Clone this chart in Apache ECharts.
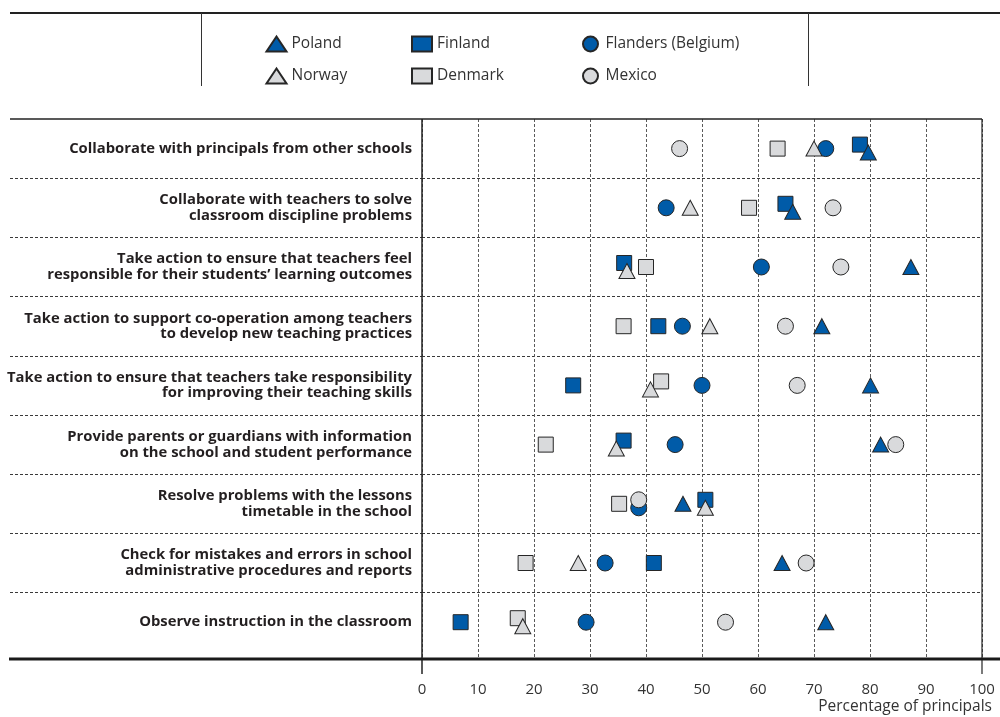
<!DOCTYPE html>
<html>
<head>
<meta charset="utf-8">
<script src="https://cdn.jsdelivr.net/npm/echarts@6/dist/echarts.min.js"></script>
<style>
html, body { margin: 0; padding: 0; background: #fff; }
#chart { width: 1000px; height: 717px; }
</style>
</head>
<body>
<div id="chart"></div>
<script>
// activities, top to bottom
var activities = [
	'Collaborate with principals from other schools',
	'Collaborate with teachers to solve\nclassroom discipline problems',
	'Take action to ensure that teachers feel\nresponsible for their students\u2019 learning outcomes',
	'Take action to support co-operation among teachers\nto develop new teaching practices',
	'Take action to ensure that teachers take responsibility\nfor improving their teaching skills',
	'Provide parents or guardians with information\non the school and student performance',
	'Resolve problems with the lessons\ntimetable in the school',
	'Check for mistakes and errors in school\nadministrative procedures and reports',
	'Observe instruction in the classroom'
];

// percentage of principals, same order as activities
var poland   = [79.7, 66.2, 87.3, 71.4, 80.1, 81.9, 46.6, 64.3, 72.1];
var finland  = [78.2, 64.9, 36.1, 42.2, 27.0, 36.0, 50.6, 41.4, 6.9];
var flanders = [72.1, 43.6, 60.6, 46.5, 50.0, 45.2, 38.7, 32.7, 29.3];
var norway   = [70.0, 47.9, 36.6, 51.4, 40.8, 34.7, 50.6, 27.9, 18.0];
var denmark  = [63.5, 58.4, 40.0, 36.0, 42.7, 22.1, 35.2, 18.5, 17.1];
var mexico   = [46.0, 73.4, 74.8, 64.9, 67.0, 84.6, 38.7, 68.6, 54.2];

var blue = '#005ba8';
var grey = '#d9dadc';
var edge = '#262626';
var font = 'Open Sans';

// drawing order: later ones on top; rank decides who moves up when two marks overlap
var countries = [
	{ name: 'Finland', data: finland, symbol: 'rect', size: 15, color: blue, rank: 0 },
	{ name: 'Denmark', data: denmark, symbol: 'rect', size: 15, color: grey, rank: 0 },
	{ name: 'Flanders (Belgium)', data: flanders, symbol: 'circle', size: 16, color: blue, rank: 2 },
	{ name: 'Mexico', data: mexico, symbol: 'circle', size: 16, color: grey, rank: 1 },
	{ name: 'Norway', data: norway, symbol: 'triangle', size: [16, 15], color: grey, rank: 3 },
	{ name: 'Poland', data: poland, symbol: 'triangle', size: [16, 15], color: blue, rank: 3 }
];

// nudge marks that sit on top of each other
var shift = countries.map(function() { return activities.map(function() { return 0; }); });
for (var r = 0; r < activities.length; r++) {
	for (var i = 0; i < countries.length; i++) {
		for (var j = i + 1; j < countries.length; j++) {
			if (Math.abs(countries[i].data[r] - countries[j].data[r]) < 2) {
				var up = countries[i].rank <= countries[j].rank ? i : j;
				var down = up == i ? j : i;
				shift[up][r] = -4;
				shift[down][r] = 4;
			}
		}
	}
}

var rowPx = 59.2;
var gridTop = 119, gridBottom = 58;
var yMax = (717 - gridTop - gridBottom) / rowPx;

// dashed separators only between rows
var sepColors = [];
for (var k = 0; k <= 2 * activities.length + 1; k++) {
	sepColors.push(k % 2 == 0 && k > 0 && k < 2 * activities.length ? '#3a3a3a' : 'rgba(0,0,0,0)');
}

var series = countries.map(function(c, ci) {
	return {
		name: c.name,
		type: 'scatter',
		xAxisIndex: 0,
		yAxisIndex: 0,
		symbol: c.symbol,
		symbolSize: c.size,
		itemStyle: { color: c.color, borderColor: edge, borderWidth: 1, opacity: 1 },
		emphasis: { disabled: true },
		data: c.data.map(function(v, r) {
			return { value: [v, r + 0.5], symbolOffset: [0, shift[ci][r]] };
		})
	};
});

var legendText = { fontFamily: font, fontSize: 15.5, color: '#333' };
function legendCol(left, names, icon) {
	return {
		orient: 'vertical', left: left, top: 35.5, padding: 0,
		itemWidth: 20, itemHeight: 15, itemGap: 15,
		selectedMode: false, textStyle: legendText,
		data: names.map(function(n) { return { name: n, icon: icon }; })
	};
}

var chart = echarts.init(document.getElementById('chart'));
chart.setOption({
	animation: false,
	textStyle: { fontFamily: font },
	title: {
		text: 'Percentage of principals',
		right: 8, top: 699, padding: 0,
		textStyle: { fontFamily: font, fontSize: 15.5, fontWeight: 'normal', color: '#333' }
	},
	legend: [
		legendCol(265.5, ['Poland', 'Norway'], 'triangle'),
		legendCol(411, ['Finland', 'Denmark'], 'rect'),
		legendCol(582, ['Flanders (Belgium)', 'Mexico'], 'circle')
	],
	grid: [
		{ left: 422, right: 18, top: gridTop, bottom: gridBottom },
		{ left: 10, width: 412, top: gridTop, bottom: gridBottom }
	],
	xAxis: [{
		gridIndex: 0, type: 'value', min: 0, max: 100, interval: 10,
		axisLine: { show: false },
		axisTick: { show: true, length: 14, lineStyle: { color: '#5a5a5a', type: [3, 2] } },
		axisLabel: { margin: 23, fontFamily: font, fontSize: 15, color: '#333' },
		splitLine: { show: true, lineStyle: { color: '#5a5a5a', type: [3, 2], width: 1 } }
	}, {
		gridIndex: 1, type: 'value', show: false
	}],
	yAxis: [{
		gridIndex: 0, type: 'value', inverse: true, min: 0, max: yMax, interval: 0.5,
		axisLine: { show: false },
		axisTick: { show: false },
		axisLabel: {
			margin: 10, fontFamily: font, fontWeight: 'bold', fontSize: 14.8, lineHeight: 15.5,
			color: '#231f20', align: 'right',
			formatter: function(v) {
				var idx = v - 0.5;
				var n = Math.round(idx);
				if (Math.abs(idx - n) < 1e-6 && n >= 0 && n < activities.length) {
					return activities[n];
				}
				return '';
			}
		},
		splitLine: { show: true, lineStyle: { color: sepColors, type: [3, 2], width: 1 } }
	}, {
		gridIndex: 1, type: 'value', inverse: true, min: 0, max: yMax, interval: 0.5,
		axisLine: { show: false },
		axisTick: { show: false },
		axisLabel: { show: false },
		splitLine: { show: true, lineStyle: { color: sepColors, type: [3, 2], width: 1 } }
	}],
	graphic: [
		{ type: 'line', z: 100, shape: { x1: 10, y1: 13, x2: 1000, y2: 13 }, style: { stroke: '#222', lineWidth: 2 } },
		{ type: 'line', z: 100, shape: { x1: 201.5, y1: 13, x2: 201.5, y2: 86 }, style: { stroke: '#333', lineWidth: 1 } },
		{ type: 'line', z: 100, shape: { x1: 808.5, y1: 13, x2: 808.5, y2: 86 }, style: { stroke: '#333', lineWidth: 1 } },
		{ type: 'line', z: 100, shape: { x1: 10, y1: 119, x2: 982, y2: 119 }, style: { stroke: '#222', lineWidth: 1.5 } },
		{ type: 'line', z: 100, shape: { x1: 422, y1: 119, x2: 422, y2: 674 }, style: { stroke: '#222', lineWidth: 1.5 } },
		{ type: 'line', z: 100, shape: { x1: 982, y1: 119, x2: 982, y2: 674 }, style: { stroke: '#222', lineWidth: 1.2 } },
		{ type: 'line', z: 100, shape: { x1: 9, y1: 659, x2: 1000, y2: 659 }, style: { stroke: '#1a1a1a', lineWidth: 3 } }
	],
	series: series
});
</script>
</body>
</html>
